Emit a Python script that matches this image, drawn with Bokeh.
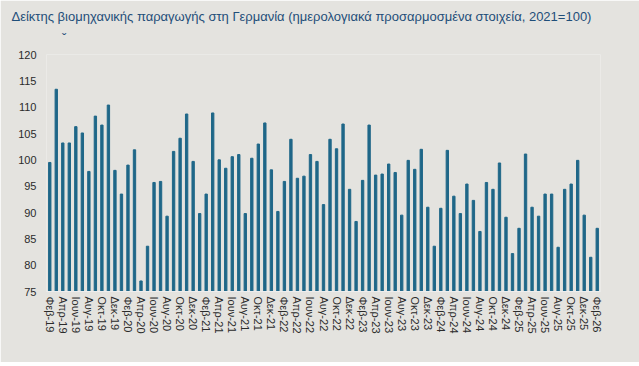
from bokeh.plotting import figure
from bokeh.models import Range1d, FixedTicker
from bokeh.embed import file_html
from bokeh.resources import INLINE

title_text = "Δείκτης βιομηχανικής παραγωγής στη Γερμανία (ημερολογιακά προσαρμοσμένα στοιχεία, 2021=100)"
subtitle_mark = "ˇ"

tick_labels = [
    "Φεβ-19", "Απρ-19", "Ιουν-19", "Αυγ-19", "Οκτ-19", "Δεκ-19",
    "Φεβ-20", "Απρ-20", "Ιουν-20", "Αυγ-20", "Οκτ-20", "Δεκ-20",
    "Φεβ-21", "Απρ-21", "Ιουν-21", "Αυγ-21", "Οκτ-21", "Δεκ-21",
    "Φεβ-22", "Απρ-22", "Ιουν-22", "Αυγ-22", "Οκτ-22", "Δεκ-22",
    "Φεβ-23", "Απρ-23", "Ιουν-23", "Αυγ-23", "Οκτ-23", "Δεκ-23",
    "Φεβ-24", "Απρ-24", "Ιουν-24", "Αυγ-24", "Οκτ-24", "Δεκ-24",
    "Φεβ-25", "Απρ-25", "Ιουν-25", "Αυγ-25", "Οκτ-25", "Δεκ-25",
    "Φεβ-26",
]

values = [
    99.5, 113.4, 103.2, 103.2, 106.3, 105.1, 97.8, 108.3, 106.6, 110.4, 98.0,
    93.5, 99.0, 101.9, 77.0, 83.6, 95.7, 95.9, 89.3, 101.6, 104.1, 108.7,
    99.7, 89.8, 93.5, 108.9, 100.0, 98.4, 100.6, 101.0, 89.8, 100.3, 103.0,
    107.0, 98.1, 90.2, 95.9, 103.9, 96.5, 96.9, 101.0, 99.7, 91.5, 103.9,
    102.1, 106.8, 94.4, 88.3, 96.1, 106.6, 97.1, 97.3, 99.2, 97.6, 89.5,
    99.9, 98.2, 102.0, 91.0, 83.6, 90.8, 101.8, 93.1, 89.8, 95.4, 92.3,
    86.4, 95.7, 94.4, 99.4, 89.1, 82.2, 87.0, 101.1, 91.0, 89.3, 93.5,
    93.5, 83.4, 94.4, 95.4, 99.9, 89.5, 81.5, 87.0,
]

y_ticks = [75, 80, 85, 90, 95, 100, 105, 110, 115, 120]

BG = "#E4E3DF"
BAR = "#1F6788"
FONT = "Liberation Sans"

idx = list(range(len(values)))
tick_pos = [2 * i for i in range(len(tick_labels))]

p = figure(width=639, height=362, output_backend="svg", toolbar_location=None,
           x_range=Range1d(-0.5, len(values) - 0.5), y_range=Range1d(75, 120),
           min_border_left=46, min_border_right=39, min_border_top=54,
           min_border_bottom=71)

p.background_fill_color = BG
p.border_fill_color = BG
p.outline_line_color = None
p.grid.grid_line_color = None

p.vbar(x=idx, top=values, bottom=75, width=0.36, color=BAR)

# two-line title: heading, then the small caret mark below it
p.title.text = title_text + "\n" + "\u00a0" * 14 + subtitle_mark
p.title.text_font = FONT
p.title.text_font_size = "13px"
p.title.text_font_style = "normal"
p.title.text_color = "#1F4E79"
p.title.text_line_height = 1.5
p.title.align = "left"
p.title.vertical_align = "top"
p.title.standoff = 12
p.title.offset = -35

p.xaxis.ticker = FixedTicker(ticks=tick_pos)
p.xaxis.major_label_overrides = {pos: lab for pos, lab in zip(tick_pos, tick_labels)}
p.xaxis.major_label_orientation = "vertical"
p.xaxis.major_tick_line_color = None
p.xaxis.major_tick_out = 0
p.xaxis.major_tick_in = 0
p.xaxis.minor_tick_line_color = None
p.xaxis.axis_line_color = "#EDEDED"
p.xaxis.major_label_text_font = FONT
p.xaxis.major_label_text_font_size = "11px"
p.xaxis.major_label_text_color = "#2B2B2B"
p.xaxis.major_label_standoff = 5

p.yaxis.ticker = FixedTicker(ticks=y_ticks)
p.yaxis.major_tick_line_color = None
p.yaxis.major_tick_out = 0
p.yaxis.major_tick_in = 0
p.yaxis.minor_tick_line_color = None
p.yaxis.axis_line_color = None
p.yaxis.major_label_text_font = FONT
p.yaxis.major_label_text_font_size = "11px"
p.yaxis.major_label_text_color = "#2B2B2B"
p.yaxis.major_label_standoff = 10

open("out.html", "w").write(file_html(p, INLINE))
